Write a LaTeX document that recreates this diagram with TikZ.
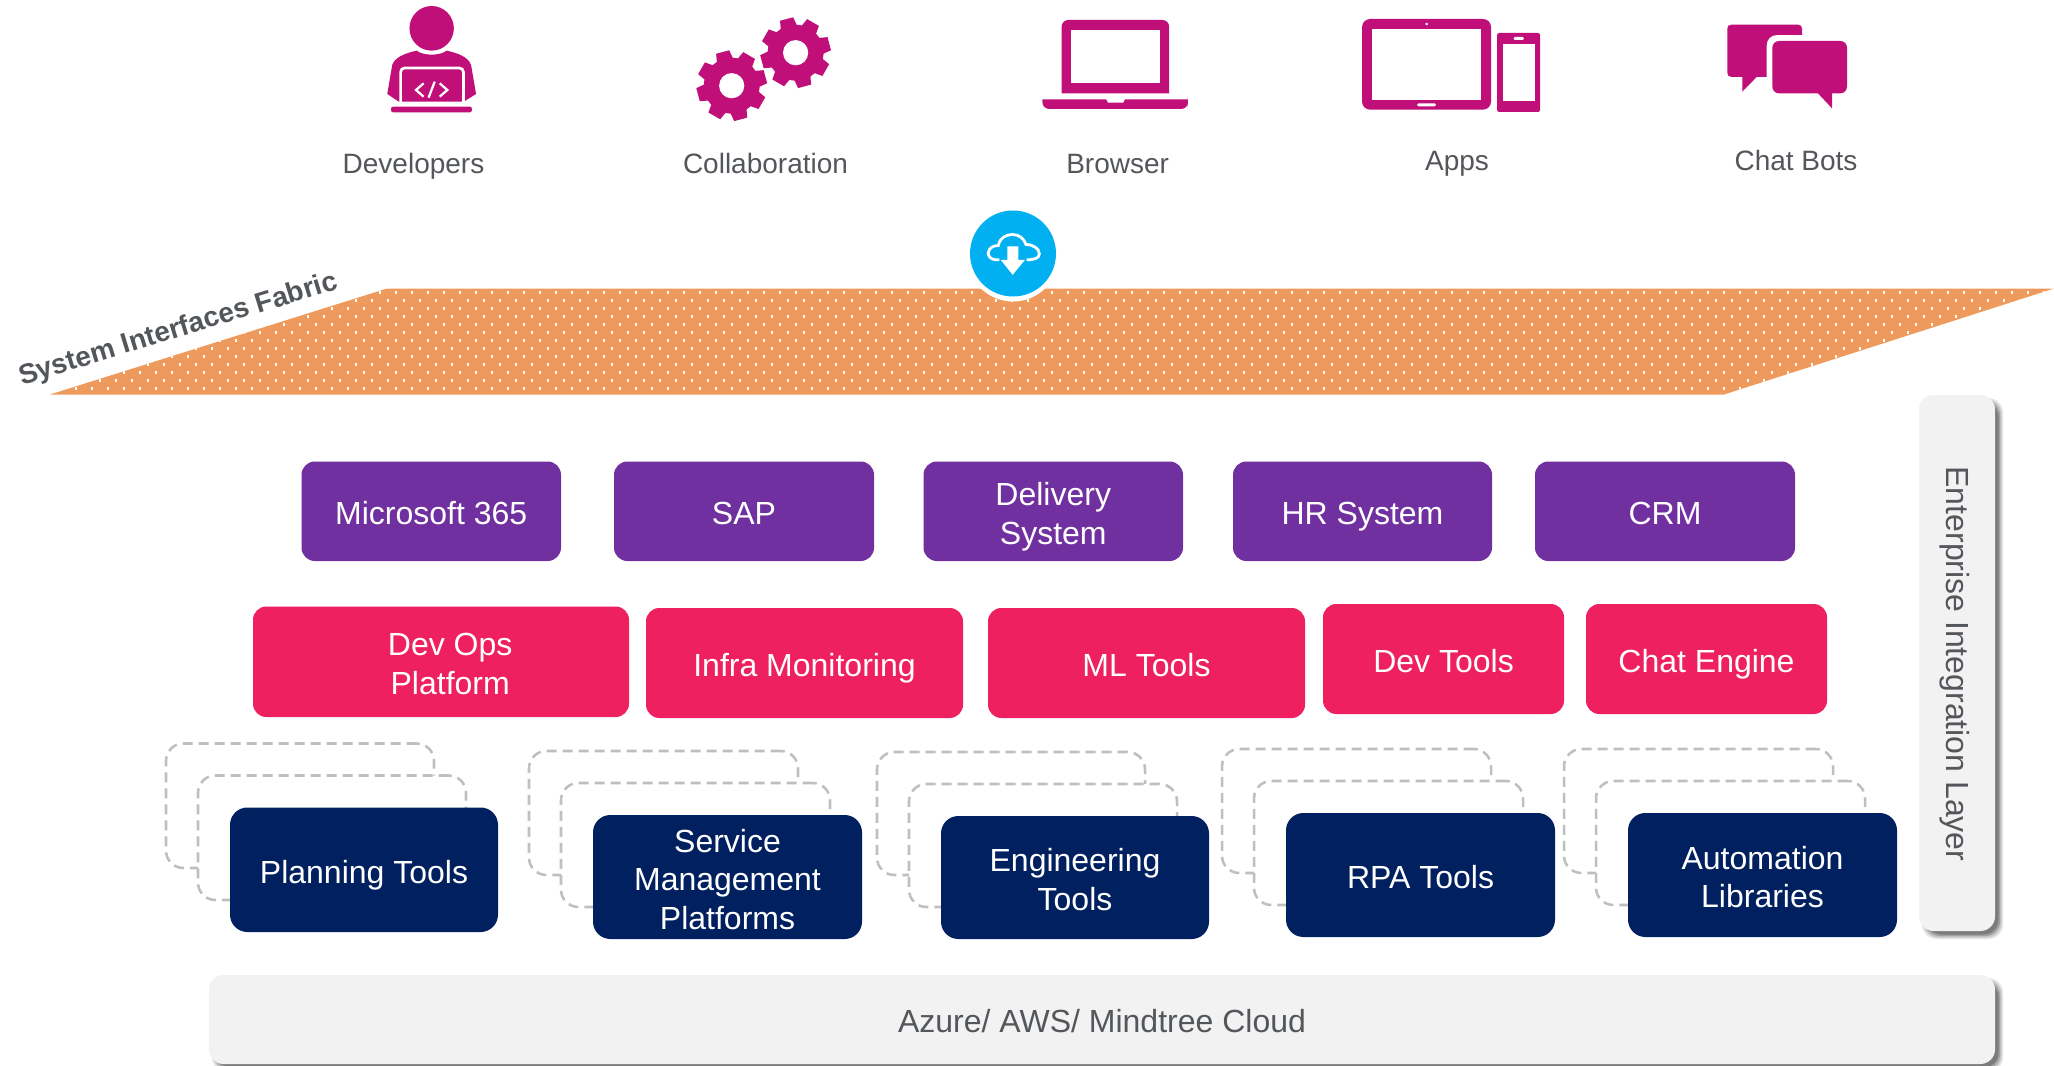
\documentclass[tikz,border=0pt]{standalone}
\usepackage{fontspec}
\setmainfont{Liberation Sans}
\definecolor{mag}{HTML}{C00F78}
\definecolor{txt}{HTML}{53565A}
\definecolor{purp}{HTML}{7030A0}
\definecolor{redb}{HTML}{EE2060}
\definecolor{navy}{HTML}{002060}
\definecolor{oran}{HTML}{EE9A5D}
\definecolor{panel}{HTML}{F2F2F2}
\definecolor{cyanb}{HTML}{00B0F0}
\definecolor{dashg}{HTML}{BFBFBF}
\newcommand\tbox[7]{%
  \pgfmathsetmacro\bw{((#5)-(#3))*0.75}%
  \pgfmathsetmacro\bh{((#6)-(#4))*0.75}%
  \node[#2,minimum width=\bw pt,minimum height=\bh pt,inner sep=0pt,outer sep=0pt] (#1) at ({((#3)+(#5))/2},{((#4)+(#6))/2}) {};%
  \node[boxtext] (#1t) at (#1.center) {#7\vphantom{g}};}
\newcommand\toolgroup[6]{%
  \tbox{#1b}{dashbox}{#2-64}{#3-64}{#4-64}{#5-64}{}%
  \tbox{#1f}{dashbox}{#2-32}{#3-32}{#4-32}{#5-32}{}%
  \tbox{#1}{navybox}{#2}{#3}{#4}{#5}{#6}}
\newcommand\softshadow[4]{%
  \foreach \e/\o in {3/.10,1.5/.14,0/.18,-1.5/.22}{%
    \fill[black,opacity=\o,rounded corners=11pt] ({(#1)+6-\e},{(#2)+6-\e}) rectangle ({(#3)+5+\e},{(#4)+5+\e});}}
\newcommand\gear[3]{%
  \begin{scope}[shift={(#1,#2)}]
    \fill[mag] (30-11:35.5) \foreach \k in {0,...,7}{
       -- ({30+45*\k-11}:35.5) -- ({30+45*\k+11}:35.5) -- ({30+45*\k+17}:28) -- ({30+45*\k+28}:28)} -- cycle;
    \fill[white] (0,0) circle[radius=#3];
  \end{scope}}
\tikzset{
  boxtext/.style={text=white,font=\fontsize{24}{28.8}\selectfont,align=center,inner sep=0pt,yshift=-4pt},
  purpbox/.style={fill=purp,rounded corners=10pt},
  redbox/.style={fill=redb,rounded corners=10pt},
  navybox/.style={fill=navy,rounded corners=13pt},
  dashbox/.style={draw=dashg,fill=white,line width=1.9pt,dash pattern=on 7.5pt off 4.5pt,rounded corners=13pt},
  panelbox/.style={fill=panel,rounded corners=11pt},
  paneltext/.style={text=txt,font=\fontsize{24}{28.8}\selectfont,inner sep=0pt},
  iconlabel/.style={text=txt,font=\fontsize{21}{25}\selectfont,anchor=base,inner sep=0pt},
}
\begin{document}
\begin{tikzpicture}[x=0.75pt,y=-0.75pt]
\useasboundingbox (0,0) rectangle (2054,1066);
\fill[white] (0,0) rectangle (2054,1066);

% Developer icon
\begin{scope}[shift={(300,0)},xscale=0.3827,yscale=0.3333]
  \fill[mag] (344,85) ellipse[x radius=58,y radius=67];
  \fill[mag] (305,152) .. controls (322,168) and (366,168) .. (383,152)
     .. controls (415,160) and (440,172) .. (447,195) -- (460,282) -- (428,305) -- (258,305) -- (228,282) -- (241,195)
     .. controls (248,172) and (273,160) .. (305,152) -- cycle;
  \draw[white,line width=2pt,rounded corners=3pt] (263,322) -- (263,204) -- (427,204) -- (427,322);
  \fill[white] (228,305) rectangle (259,321);
  \fill[white] (431,305) rectangle (460,321);
  \fill[mag,rounded corners=1.5pt] (238,320) -- (449,320) -- (449,337) -- (238,337) -- cycle;
  \draw[white,line width=1.7pt] (323,250) -- (303,270) -- (323,290) (352,245) -- (336,293) (365,250) -- (385,270) -- (365,290);
\end{scope}

% Gears
\gear{795.6}{52.7}{12.6}
\gear{731.7}{85.7}{12.6}

% Laptop
\begin{scope}[shift={(1000,0)},xscale=0.3827,yscale=0.3333]
  \fill[mag] (161,280) [rounded corners=5pt] -- (161,60) -- (442,60) -- (442,200) [sharp corners] -- (442,280) -- cycle;
  \fill[white] (186,90) rectangle (417,250);
  \fill[mag] (111,298) [rounded corners=5pt] -- (111,327) -- (491,327) -- (491,310) [sharp corners] -- (491,298) -- cycle;
  \fill[white] (277,296) -- (282,308) -- (322,308) -- (327,296) -- cycle;
  % Tablet
  \fill[mag,rounded corners=6pt] (946,57) rectangle (1283,329);
  \fill[white] (971,87) rectangle (1257,299);
  \fill[white] (1115,72) ellipse[x radius=4,y radius=4];
  \fill[white,rounded corners=1pt] (1090,310) rectangle (1139,319);
  % Phone
  \fill[mag,rounded corners=1.5pt] (1299,99) rectangle (1411,336);
  \fill[white] (1313,132) rectangle (1398,303);
  \fill[white,rounded corners=1pt] (1342,111) rectangle (1369,120);
\end{scope}

% Chat icon
\begin{scope}[shift={(1700,0)},scale=0.3333]
  \fill[mag] (94,74) -- (294,74) .. controls (302,74) and (306,78) .. (306,86) -- (306,105) -- (232,105) .. controls (212,105) and (200,118) .. (200,136) -- (200,231) -- (170,231) -- (127,275) -- (127,231) -- (94,231) .. controls (86,231) and (82,225) .. (82,218) -- (82,86) .. controls (82,78) and (86,74) .. (94,74) -- cycle;
  \fill[mag,rounded corners=5pt] (217,123) -- (441,123) -- (441,280) -- (217,280) -- cycle;
  \fill[mag] (352,278) -- (396,325) -- (396,278) -- cycle;
\end{scope}

% Icon labels
\node[iconlabel] (lDev) at (413.5,174) {Developers};
\node[iconlabel] (lCol) at (765.5,174) {Collaboration};
\node[iconlabel] (lBro) at (1117.6,174) {Browser};
\node[iconlabel] (lApp) at (1457,170.5) {Apps};
\node[iconlabel] (lCha) at (1796,170.5) {Chat Bots};

% Band
\begin{scope}
  \clip (50,394.5) -- (387,288.5) -- (2054,288.5) -- (1724,394.5) -- cycle;
  \fill[oran] (0,280) rectangle (2054,400);
  \foreach \r in {0,...,13}{
    \pgfmathsetmacro\yy{\r==0 ? 286.5 : 283.3+8*\r}
    \pgfmathsetmacro\ph{mod(\r,2)==0 ? 4 : 12}
    \foreach \c in {0,...,128}{
      \fill[white] ({\ph+16*\c-1.4},\yy) rectangle +(2.8,2.8);
    }
  }
\end{scope}
\node[text=txt,font=\bfseries\fontsize{21}{25}\selectfont,rotate=17,inner sep=0pt] (lFab) at (178.5,330) {System Interfaces Fabric};

% Download badge
\node[circle,fill=white,minimum size=69pt,inner sep=0pt] (halo) at (1013,255.5) {};
\node[circle,fill=cyanb,minimum size=64.5pt,inner sep=0pt] (badge) at (1013,253.5) {};
\begin{scope}[shift={(970,220.5)},scale=0.3333]
  \draw[white,line width=2.1pt] (88,118) -- (78,118) .. controls (62,118) and (52,105) .. (55,95) .. controls (58,82) and (70,75) .. (85,75) .. controls (90,50) and (110,42) .. (128,42) .. controls (148,42) and (162,55) .. (168,72) .. controls (190,72) and (208,85) .. (208,100) .. controls (208,112) and (195,118) .. (170,118);
  \fill[white] (112,78) -- (145,78) -- (145,118) -- (165,118) -- (128,163) -- (92,118) -- (112,118) -- cycle;
\end{scope}

% Purple row
\tbox{ms}{purpbox}{301.5}{461.5}{561}{561}{Microsoft 365}
\tbox{sap}{purpbox}{614}{461.5}{874}{561}{SAP}
\tbox{del}{purpbox}{923.5}{461.5}{1183}{561}{Delivery\\System}
\tbox{hr}{purpbox}{1233}{461.5}{1492}{561}{HR System}
\tbox{crm}{purpbox}{1535}{461.5}{1795}{561}{CRM}

% Red row
\tbox{devops}{redbox}{253}{606.5}{629}{717}{}
\node[boxtext] (devopsl) at ([xshift=6.9pt]devops.center) {Dev Ops\\Platform\vphantom{g}};
\tbox{infra}{redbox}{646}{608}{963}{718}{Infra Monitoring}
\tbox{ml}{redbox}{988}{608}{1305}{718}{ML Tools}
\tbox{devt}{redbox}{1323}{604}{1564}{714}{Dev Tools}
\tbox{chat}{redbox}{1586}{604}{1827}{714}{Chat Engine}

% Tool groups
\toolgroup{plan}{230}{807.5}{498}{932}{Planning Tools}
\toolgroup{serv}{593}{815}{862}{939}{Service\\Management\\Platforms}
\toolgroup{engi}{941}{816}{1209}{939}{Engineering\\Tools}
\toolgroup{rpa}{1286}{813}{1555}{937}{RPA Tools}
\toolgroup{auto}{1628}{813}{1897}{937}{Automation\\Libraries}

% Panels
\softshadow{1919}{395}{1995}{931}
\node[panelbox,minimum width=57pt,minimum height=402pt,inner sep=0pt] (ent) at (1957,663) {};
\node[paneltext,rotate=-90] (entl) at (1955,664) {Enterprise Integration Layer};
\softshadow{209}{975}{1995}{1064}
\node[panelbox,minimum width=1339.5pt,minimum height=66.75pt,inner sep=0pt] (cloud) at (1102,1019.5) {};
\node[paneltext,yshift=-3.6pt] (cloudl) at (cloud.center) {Azure/ AWS/ Mindtree Cloud\vphantom{g}};
\end{tikzpicture}
\end{document}
